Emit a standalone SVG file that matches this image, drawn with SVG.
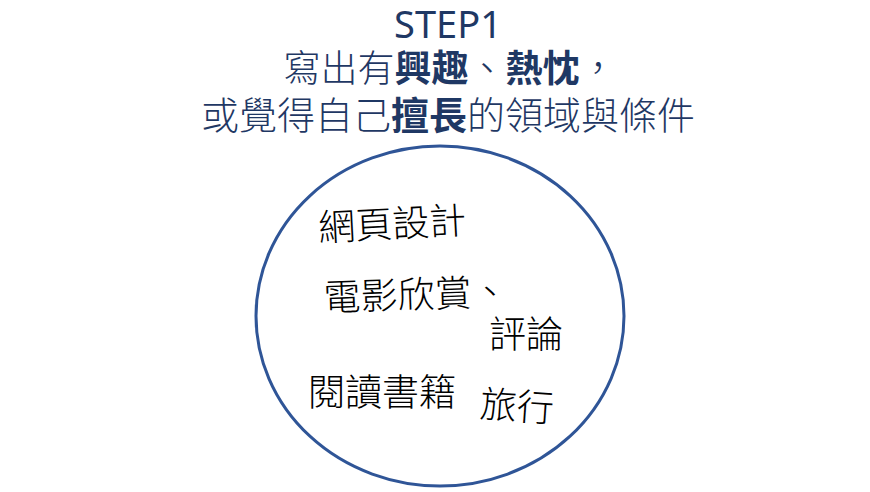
<svg xmlns="http://www.w3.org/2000/svg" width="870" height="492" viewBox="0 0 870 492">
<style>
.title{font-family:"Noto Sans","Noto Sans CJK TC",sans-serif;fill:#1F3864;text-anchor:middle;}
.cjk{font-family:"Noto Sans CJK TC","Noto Sans",sans-serif;font-weight:300;}
.b{font-weight:bold;}
.item{font-family:"Noto Sans CJK TC","Noto Sans",sans-serif;font-size:37px;font-weight:300;fill:#000;}
</style>
<rect width="870" height="492" fill="#fff"/>
<g id="title">
<text class="title" x="448" y="38" font-size="38">STEP1</text>
<text class="title cjk" x="450" y="82" font-size="37">寫出有<tspan class="b">興趣</tspan>、<tspan class="b">熱忱</tspan>，</text>
<text class="title cjk" x="448" y="129" font-size="38">或覺得自己<tspan class="b">擅長</tspan>的領域與條件</text>
</g>
<g id="circle">
<ellipse cx="440" cy="316" rx="184" ry="170" fill="none" stroke="#2F5597" stroke-width="3"/>
</g>
<g id="item-web"><text class="item" x="319" y="241" transform="rotate(-3 319 241)">網頁設計</text></g>
<g id="item-movie"><text class="item" x="324" y="311" transform="rotate(-2 324 311)">電影欣賞、</text></g>
<g id="item-review"><text class="item" x="489" y="348">評論</text></g>
<g id="item-read"><text class="item" x="308" y="406">閱讀書籍</text></g>
<g id="item-travel"><text class="item" x="479" y="417" transform="rotate(4 479 417)">旅行</text></g>
</svg>
